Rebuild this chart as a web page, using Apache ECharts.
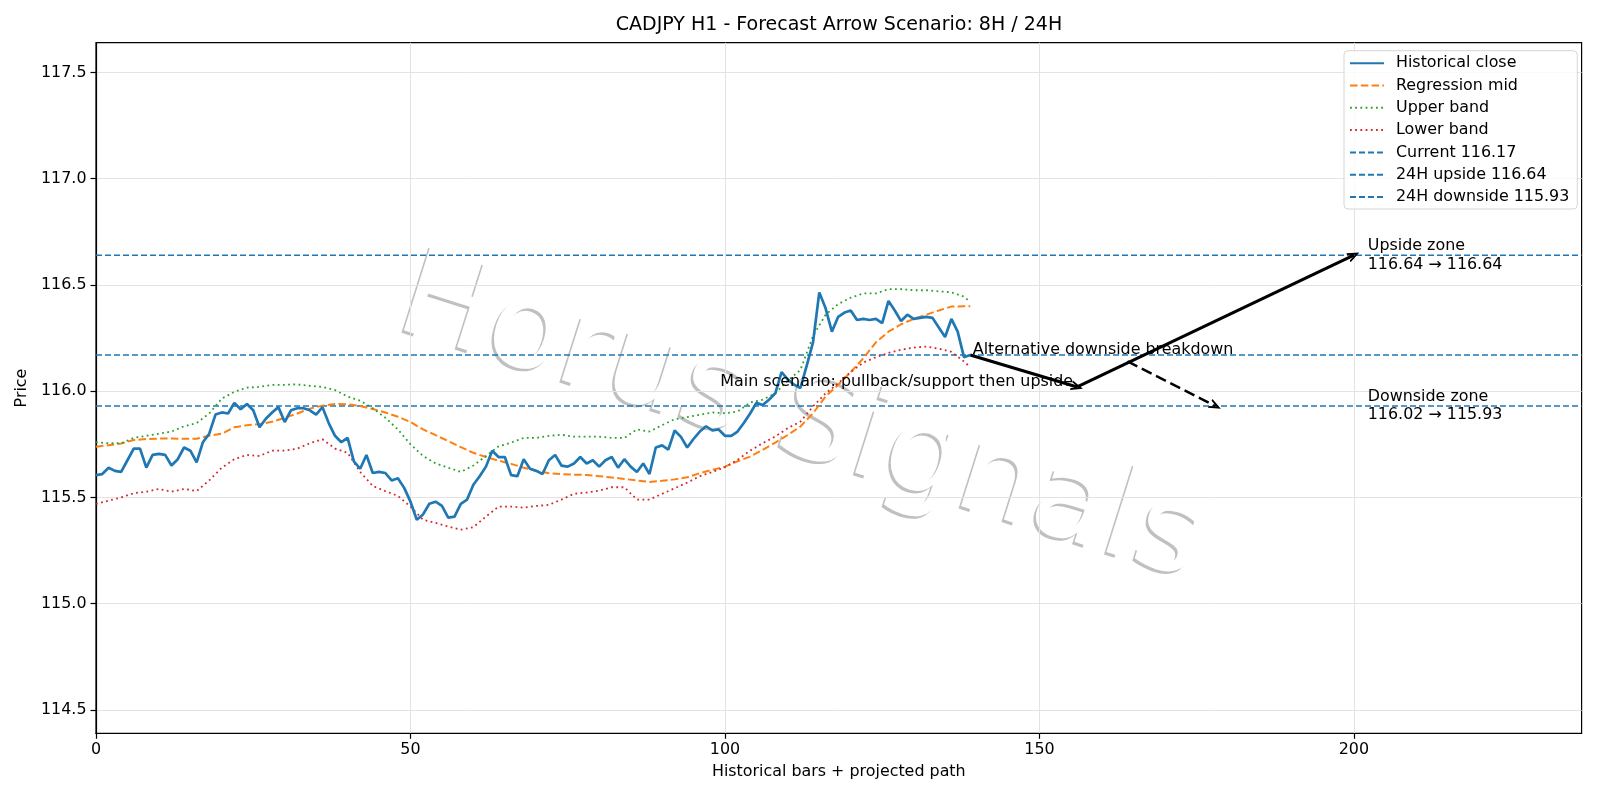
<!DOCTYPE html>
<html>
<head>
<meta charset="utf-8">
<script src="https://cdn.jsdelivr.net/npm/echarts@6/dist/echarts.min.js"></script>
<style>
  html, body { margin: 0; padding: 0; background: #fff; }
  #main { width: 1600px; height: 800px; }
</style>
</head>
<body>
<div id="main"></div>
<script>
// historical closes, one per bar (x = 0..139)
var closeValues = [
  115.605, 115.61, 115.64, 115.625, 115.62, 115.675, 115.73, 115.73, 115.64, 115.70,
  115.705, 115.70, 115.65, 115.68, 115.735, 115.72, 115.665, 115.76, 115.80, 115.89,
  115.90, 115.895, 115.945, 115.915, 115.94, 115.91, 115.83, 115.87, 115.90, 115.925,
  115.855, 115.91, 115.92, 115.92, 115.91, 115.89, 115.925, 115.85, 115.79, 115.76,
  115.78, 115.67, 115.635, 115.70, 115.615, 115.62, 115.615, 115.58, 115.59, 115.545,
  115.48, 115.395, 115.42, 115.47, 115.48, 115.46, 115.405, 115.41, 115.47, 115.49,
  115.56, 115.60, 115.645, 115.72, 115.69, 115.69, 115.605, 115.60, 115.68, 115.635,
  115.625, 115.61, 115.675, 115.70, 115.65, 115.645, 115.66, 115.69, 115.66, 115.675,
  115.645, 115.675, 115.69, 115.64, 115.68, 115.645, 115.62, 115.66, 115.61, 115.735,
  115.745, 115.725, 115.815, 115.785, 115.735, 115.775, 115.81, 115.835, 115.815, 115.82,
  115.79, 115.79, 115.81, 115.85, 115.895, 115.945, 115.935, 115.96, 115.99, 116.09,
  116.055, 116.03, 116.015, 116.12, 116.23, 116.465, 116.39, 116.28, 116.35, 116.37,
  116.38, 116.335, 116.34, 116.335, 116.34, 116.32, 116.425, 116.38, 116.33, 116.36,
  116.34, 116.345, 116.35, 116.345, 116.30, 116.255, 116.34, 116.28, 116.16, 116.17
];

// regression channel, read every second bar
var bandX = [
  0, 2, 4, 6, 8, 10, 12, 14, 16, 18, 20, 22, 24, 26, 28, 30, 32, 34, 36, 38,
  40, 42, 44, 46, 48, 50, 52, 54, 56, 58, 60, 62, 64, 66, 68, 70, 72, 74, 76, 78,
  80, 82, 84, 86, 88, 90, 92, 94, 96, 98, 100, 102, 104, 106, 108, 110, 112, 114, 116, 118,
  120, 122, 124, 126, 128, 130, 132, 134, 136, 138, 139
];
var midValues = [
  115.738, 115.746, 115.754, 115.77, 115.775, 115.777, 115.777, 115.776, 115.776, 115.79,
  115.80, 115.83, 115.84, 115.845, 115.856, 115.875, 115.895, 115.918, 115.932, 115.94,
  115.938, 115.93, 115.916, 115.90, 115.88, 115.855, 115.82, 115.793, 115.765, 115.737,
  115.71, 115.69, 115.673, 115.658, 115.64, 115.626, 115.614, 115.61, 115.607, 115.606,
  115.60, 115.594, 115.587, 115.58, 115.573, 115.578, 115.585, 115.595, 115.614, 115.63,
  115.645, 115.67, 115.692, 115.724, 115.758, 115.794, 115.834, 115.896, 115.975, 116.03,
  116.09, 116.155, 116.23, 116.28, 116.315, 116.34, 116.36, 116.38, 116.398, 116.40,
  116.40
];
var upperValues = [
  115.76, 115.755, 115.755, 115.78, 115.79, 115.80, 115.81, 115.835, 115.85, 115.895,
  115.965, 115.997, 116.017, 116.02, 116.03, 116.03, 116.032, 116.025, 116.02, 116.005,
  115.975, 115.955, 115.92, 115.875, 115.82, 115.75, 115.695, 115.66, 115.64, 115.62,
  115.65, 115.695, 115.74, 115.758, 115.78, 115.78, 115.79, 115.795, 115.786, 115.786,
  115.786, 115.78, 115.78, 115.82, 115.81, 115.84, 115.868, 115.878, 115.889, 115.90,
  115.896, 115.904, 115.947, 115.96, 115.99, 116.05, 116.10, 116.26, 116.36, 116.41,
  116.44, 116.46, 116.46, 116.48, 116.48, 116.475, 116.475, 116.47, 116.465, 116.445,
  116.42
];
var lowerValues = [
  115.47, 115.485, 115.50, 115.52, 115.527, 115.54, 115.527, 115.54, 115.53, 115.58,
  115.64, 115.68, 115.70, 115.695, 115.72, 115.72, 115.73, 115.755, 115.774, 115.73,
  115.71, 115.62, 115.554, 115.53, 115.507, 115.457, 115.395, 115.38, 115.363, 115.348,
  115.36, 115.41, 115.457, 115.457, 115.452, 115.46, 115.465, 115.49, 115.517, 115.523,
  115.532, 115.548, 115.548, 115.49, 115.49, 115.517, 115.543, 115.57, 115.60, 115.62,
  115.642, 115.677, 115.72, 115.755, 115.787, 115.826, 115.857, 115.928, 115.99, 116.037,
  116.09, 116.135, 116.16, 116.18, 116.195, 116.205, 116.21, 116.20, 116.185, 116.14,
  116.113
];

var currentLevel = 116.17;
var upsideLevel = 116.64;
var downsideLevel = 115.93;

// projected path: last close -> pullback -> upside target, plus the alternative leg
var mainPath = [[139, 116.17], [156, 116.02], [200, 116.64]];
var altPath = [[164, 116.14], [178, 115.93]];

var xTicks = [0, 50, 100, 150, 200];
var yTicks = [114.5, 115.0, 115.5, 116.0, 116.5, 117.0, 117.5];
var xMin = 0, xMax = 236.2, yMin = 114.39, yMax = 117.64;

var FONT = 'DejaVu Sans';
var FS = 15.9;
var BLUE = '#1f77b4';

function pairs(xs, ys) {
  return ys.map(function (v, i) { return [xs[i], v]; });
}
function hline(v) {
  return [[xMin, v], [xMax, v]];
}
function note(x, y, text, align, vAlign) {
  return {
    value: [x, y],
    label: { show: true, formatter: text, position: [0, 0], align: align, verticalAlign: vAlign }
  };
}

var chartDom = document.getElementById('main');
var myChart = echarts.init(chartDom, null, { renderer: 'canvas' });
var option;

var head = 'path://M0,10 L5,0 L10,10 L8,10 L5,4 L2,10 Z';
var mark = 'Horus Signals';
var markAngle = -17.5 * Math.PI / 180;

option = {
  animation: false,
  backgroundColor: '#fff',
  textStyle: { fontFamily: FONT },
  title: {
    text: 'CADJPY H1 - Forecast Arrow Scenario: 8H / 24H',
    left: 839,
    top: 16,
    padding: 0,
    textAlign: 'center',
    textStyle: { fontFamily: FONT, fontSize: 19, fontWeight: 'normal', color: '#000' }
  },
  grid: {
    left: 96, right: 18.4, top: 42.7, bottom: 66.7,
    show: true, borderColor: '#000', borderWidth: 1.2, backgroundColor: 'transparent'
  },
  legend: {
    orient: 'vertical',
    left: 1344,
    top: 50.7,
    padding: [4.5, 8, 4, 5],
    itemWidth: 34,
    itemHeight: 14,
    itemGap: 6.3,
    borderColor: '#d6d6d6',
    borderWidth: 1,
    borderRadius: 4,
    backgroundColor: 'rgba(255,255,255,0.8)',
    itemStyle: { opacity: 0 },
    textStyle: { fontFamily: FONT, fontSize: FS, lineHeight: 16, color: '#000', padding: [0, 0, 0, 7] },
    data: ['Historical close', 'Regression mid', 'Upper band', 'Lower band',
      'Current 116.17', '24H upside 116.64', '24H downside 115.93']
  },
  xAxis: {
    type: 'value',
    min: xMin,
    max: xMax,
    name: 'Historical bars + projected path',
    nameLocation: 'middle',
    nameGap: 30.5,
    nameTextStyle: { fontFamily: FONT, fontSize: FS, color: '#000' },
    axisLine: { show: true, onZero: false, lineStyle: { color: '#000', width: 1.2 } },
    axisTick: { show: true, length: 5.5, customValues: xTicks, lineStyle: { color: '#000', width: 1.2 } },
    axisLabel: { customValues: xTicks, margin: 9, fontFamily: FONT, fontSize: FS, color: '#000' },
    splitLine: { show: true, lineStyle: { color: '#e3e3e3', width: 1 } }
  },
  yAxis: {
    type: 'value',
    min: yMin,
    max: yMax,
    name: 'Price',
    nameLocation: 'middle',
    nameGap: 61,
    nameTextStyle: { fontFamily: FONT, fontSize: FS, color: '#000' },
    axisLine: { show: true, onZero: false, lineStyle: { color: '#000', width: 1.2 } },
    axisTick: { show: true, length: 5.5, customValues: yTicks, lineStyle: { color: '#000', width: 1.2 } },
    axisLabel: {
      customValues: yTicks, margin: 9.5, fontFamily: FONT, fontSize: FS, color: '#000',
      formatter: function (v) { return v.toFixed(1); }
    },
    splitLine: { show: true, lineStyle: { color: '#e3e3e3', width: 1 } }
  },
  graphic: [
    {
      // watermark shadow
      type: 'text', z: -1, silent: true,
      x: 797.5, y: 424.5,
      rotation: markAngle,
      style: {
        text: mark, font: '122px "DejaVu Sans"', align: 'center', verticalAlign: 'middle',
        fill: 'rgba(140,140,140,0.55)'
      }
    },
    {
      // watermark face
      type: 'text', z: -1, silent: true,
      x: 800, y: 422,
      rotation: markAngle,
      style: {
        text: mark, font: '122px "DejaVu Sans"', align: 'center', verticalAlign: 'middle',
        fill: '#fff'
      }
    }
  ],
  series: [
    {
      name: 'Historical close', type: 'line', symbol: 'none', z: 5,
      data: closeValues.map(function (v, i) { return [i, v]; }),
      lineStyle: { color: BLUE, width: 2.7 }, itemStyle: { color: BLUE }
    },
    {
      name: 'Regression mid', type: 'line', symbol: 'none', z: 4,
      data: pairs(bandX, midValues),
      lineStyle: { color: '#ff7f0e', width: 2, type: [7.5, 3.3] }, itemStyle: { color: '#ff7f0e' }
    },
    {
      name: 'Upper band', type: 'line', symbol: 'none', z: 4,
      data: pairs(bandX, upperValues),
      lineStyle: { color: '#2ca02c', width: 1.8, type: [1.8, 3.4] }, itemStyle: { color: '#2ca02c' }
    },
    {
      name: 'Lower band', type: 'line', symbol: 'none', z: 4,
      data: pairs(bandX, lowerValues),
      lineStyle: { color: '#d62728', width: 1.8, type: [1.8, 3.4] }, itemStyle: { color: '#d62728' }
    },
    {
      name: 'Current 116.17', type: 'line', symbol: 'none', z: 3,
      data: hline(currentLevel),
      lineStyle: { color: BLUE, width: 1.5, type: [6, 3] }, itemStyle: { color: BLUE }
    },
    {
      name: '24H upside 116.64', type: 'line', symbol: 'none', z: 3,
      data: hline(upsideLevel),
      lineStyle: { color: BLUE, width: 1.5, type: [6, 3] }, itemStyle: { color: BLUE }
    },
    {
      name: '24H downside 115.93', type: 'line', symbol: 'none', z: 3,
      data: hline(downsideLevel),
      lineStyle: { color: BLUE, width: 1.5, type: [6, 3] }, itemStyle: { color: BLUE }
    },
    {
      // arrows
      name: 'arrows', type: 'line', data: [], z: 6,
      markLine: {
        silent: true,
        symbol: ['none', head],
        symbolSize: [10, 12],
        label: { show: false },
        emphasis: { disabled: true },
        data: [
          [{ coord: mainPath[0], lineStyle: { color: '#000', width: 3.1, type: 'solid' } }, { coord: mainPath[1] }],
          [{ coord: mainPath[1], lineStyle: { color: '#000', width: 3.1, type: 'solid' } }, { coord: mainPath[2] }],
          [{ coord: altPath[0], lineStyle: { color: '#000', width: 2.4, type: [11, 5] } }, { coord: altPath[1] }]
        ]
      }
    },
    {
      name: 'notes', type: 'scatter', symbolSize: 0, z: 7, silent: true,
      itemStyle: { opacity: 1 },
      label: { fontFamily: FONT, fontSize: FS, color: '#000', opacity: 1, lineHeight: 18.5 },
      data: [
        note(127.3, 116.045, 'Main scenario: pullback/support then upside', 'center', 'middle'),
        note(139.4, 116.152, 'Alternative downside breakdown', 'left', 'bottom'),
        note(202.2, upsideLevel, 'Upside zone\n116.64 \u2192 116.64', 'left', 'middle'),
        note(202.2, downsideLevel, 'Downside zone\n116.02 \u2192 115.93', 'left', 'middle')
      ]
    }
  ]
};

option && myChart.setOption(option);
</script>
</body>
</html>
